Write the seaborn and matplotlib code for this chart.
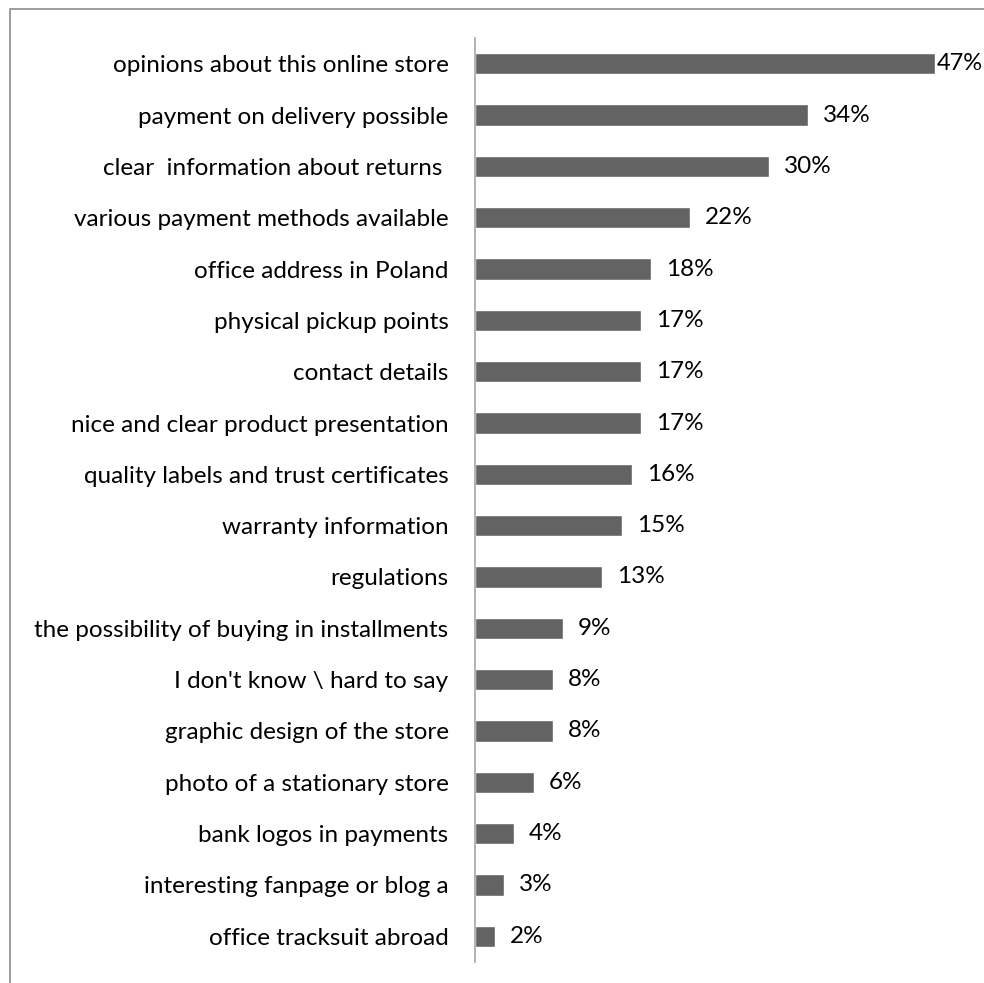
import matplotlib
matplotlib.use("Agg")
import matplotlib.pyplot as plt
import matplotlib.patches as mpatches
import seaborn as sns
import pandas as pd

categories = [
    "opinions about this online store",
    "payment on delivery possible",
    "clear  information about returns ",
    "various payment methods available",
    "office address in Poland",
    "physical pickup points",
    "contact details",
    "nice and clear product presentation",
    "quality labels and trust certificates",
    "warranty information",
    "regulations",
    "the possibility of buying in installments",
    "I don't know \\ hard to say",
    "graphic design of the store",
    "photo of a stationary store",
    "bank logos in payments",
    "interesting fanpage or blog a",
    "office tracksuit abroad",
]
values = [47, 34, 30, 22, 18, 17, 17, 17, 16, 15, 13, 9, 8, 8, 6, 4, 3, 2]
value_labels = ["47%", "34%", "30%", "22%", "18%", "17%", "17%", "17%", "16%",
                "15%", "13%", "9%", "8%", "8%", "6%", "4%", "3%", "2%"]

df = pd.DataFrame({"category": categories, "value": values})

sns.set_theme(style="white")
plt.rcParams["font.family"] = ["Lato", "DejaVu Sans"]

fig = plt.figure(figsize=(9.84, 9.83), dpi=100)
ax = fig.add_axes([475/984, 1 - 962/983, 1 - 475/984, (962 - 38)/983])

sns.barplot(data=df, y="category", x="value", orient="h", color="#636363",
            saturation=1, width=0.41, ax=ax, order=categories)

ax.set_xlim(0, 52)
ax.set_ylim(len(categories) - 0.5, -0.5)
ax.set_xlabel("")
ax.set_ylabel("")
ax.set_xticks([])
for s in ["top", "right", "bottom"]:
    ax.spines[s].set_visible(False)
ax.spines["left"].set_color("#a6a6a6")
ax.spines["left"].set_linewidth(1.2)
ax.tick_params(axis="y", length=0, pad=19, labelsize=17.5, labelcolor="#000000")

vmax = max(values)
for i, (v, lab) in enumerate(zip(values, value_labels)):
    off = 2 if v == vmax else 15
    ax.annotate(lab, xy=(v, i), xytext=(off, 0), textcoords="offset pixels",
                va="center", ha="left", fontsize=17.5 if v != vmax else 17,
                color="#000000", annotation_clip=False)

border = mpatches.Rectangle((10/984, -0.1), 1.2, 1.1 - 9/983, transform=fig.transFigure,
                            fill=False, edgecolor="#8c8c8c", linewidth=1.2, clip_on=False)
fig.patches.append(border)

fig.savefig("out.png", dpi=100)
